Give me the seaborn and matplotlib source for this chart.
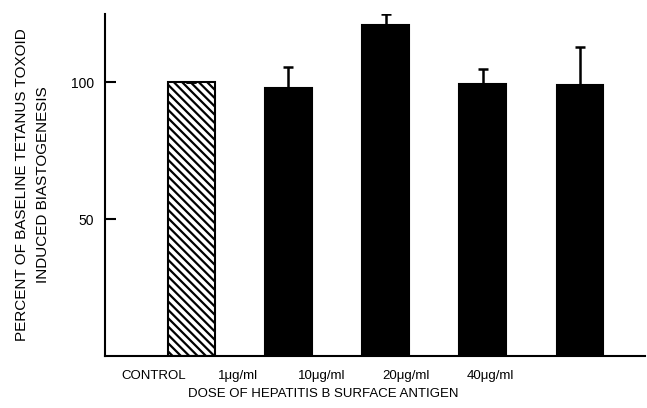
import pandas as pd
import matplotlib.pyplot as plt
import seaborn as sns
import numpy as np

doses = ["CONTROL", "1\u03bcg/ml", "10\u03bcg/ml", "20\u03bcg/ml", "40\u03bcg/ml"]
percent = [100, 98, 121, 99.5, 99]
err_up = [0, 7.5, 4, 5.5, 14]
bar_colors = ["white", "black", "black", "black", "black"]

sns.set_style("ticks")
plt.rcParams['font.family'] = ['Liberation Sans', 'DejaVu Sans']
plt.rcParams['text.color'] = 'black'
plt.rcParams['axes.labelcolor'] = 'black'
plt.rcParams['xtick.color'] = 'black'
plt.rcParams['ytick.color'] = 'black'
plt.rcParams['axes.edgecolor'] = 'black'
plt.rcParams['hatch.linewidth'] = 1.6

df = pd.DataFrame({"dose": doses, "percent": percent})

fig = plt.figure(figsize=(6.47, 4.08), dpi=100)
ax = fig.add_axes([0.162, 0.127, 0.835, 0.839])

sns.barplot(data=df, x="dose", y="percent", hue="dose", palette=bar_colors,
            edgecolor="black", linewidth=1.5, width=0.48, legend=False, ax=ax)
ax.patches[0].set_hatch("\\\\\\\\")

x = np.arange(len(doses))
ax.errorbar(x, percent, yerr=[np.zeros(len(doses)), err_up], fmt="none",
            ecolor="black", elinewidth=1.8, capsize=3.5, capthick=1.8)

ax.set_ylim(0, 125)
ax.set_xlim(-0.89, 4.67)
ax.set_yticks([50, 100])
ax.tick_params(axis="y", direction="in", length=8, width=1.5, labelsize=10, pad=8)
# labels in the original sit a bit left of their bars
ax.set_xticks(-0.39 + x * 0.866)
ax.set_xticklabels(doses)
ax.tick_params(axis="x", length=0, labelsize=9.5, pad=10)

for s in ["top", "right"]:
    ax.spines[s].set_visible(False)
for s in ["left", "bottom"]:
    ax.spines[s].set_linewidth(1.5)

ax.set_xlabel("DOSE OF HEPATITIS B SURFACE ANTIGEN", fontsize=9.5, labelpad=4,
              x=0.404)
ax.set_ylabel("PERCENT OF BASELINE TETANUS TOXOID\nINDUCED BIASTOGENESIS",
              fontsize=11, labelpad=15, linespacing=1.6)

fig.savefig("out.png", dpi=100)
